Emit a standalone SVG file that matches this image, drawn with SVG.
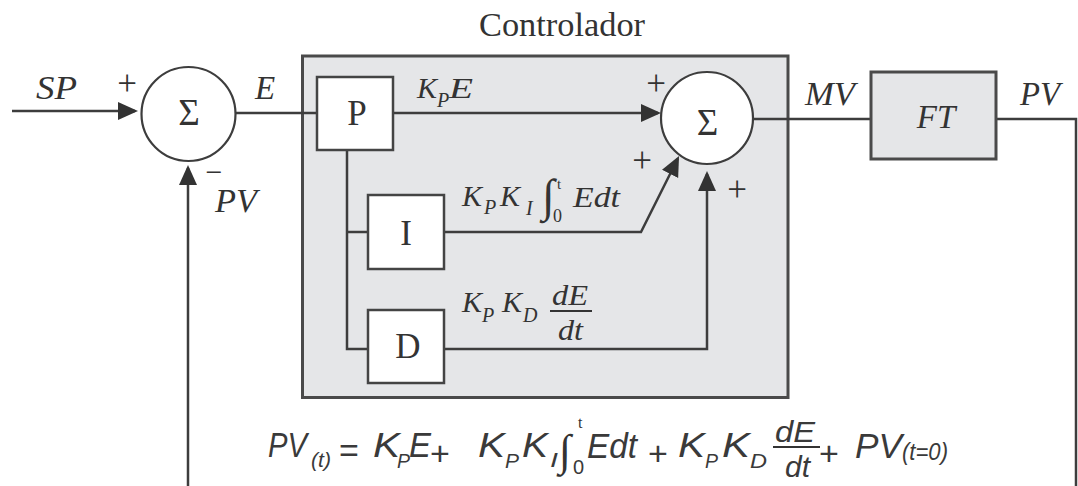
<svg xmlns="http://www.w3.org/2000/svg" width="1078" height="486" viewBox="0 0 1078 486">
<defs>
<marker id="arr" markerUnits="userSpaceOnUse" markerWidth="20" markerHeight="20" viewBox="0 0 20 20" refX="17" refY="10" orient="auto">
<path d="M0,1 L20,10 L0,19 z" fill="#333"/>
</marker>
</defs>
<style>
.ln{fill:none;stroke:#3d3d3d;stroke-width:2.5}
.ar{marker-end:url(#arr)}
.box{fill:#fff;stroke:#444;stroke-width:2.5}
.gbox{fill:#e5e6e8;stroke:#4a4a4a;stroke-width:3}
.circ{fill:#fff;stroke:#3d3d3d;stroke-width:2.2}
.si{font-family:"Liberation Serif","DejaVu Serif",serif;font-style:italic;fill:#333}
.su{font-family:"Liberation Serif","DejaVu Serif",serif;fill:#333}
.eq{font-family:"Liberation Sans","DejaVu Sans",sans-serif;font-style:italic;fill:#3a3a3a}
.equ{font-family:"Liberation Sans","DejaVu Sans",sans-serif;fill:#3a3a3a}
</style>
<rect width="1078" height="486" fill="#fff"/>

<g id="controller">
<rect class="gbox" x="302.5" y="56" width="485.5" height="341.5"/>
<text class="su" x="562" y="36" font-size="34" text-anchor="middle" textLength="166" lengthAdjust="spacingAndGlyphs">Controlador</text>
</g>

<g id="connectors">
<path class="ln ar" d="M12,111 H135"/>
<path class="ln" d="M235,113 H317"/>
<path class="ln ar" d="M393,113 H658"/>
<path class="ln" d="M347,150 V349 H368"/>
<path class="ln" d="M347,232 H368"/>
<path class="ln ar" d="M444,232 H641 L677.7,158.7"/>
<path class="ln ar" d="M444,349 H707 V174"/>
<path class="ln" d="M753,119 H871"/>
<path class="ln" d="M996,119 H1076 V486"/>
<path class="ln ar" d="M188,486 V168"/>
</g>

<g id="sum1">
<circle class="circ" cx="188.5" cy="114" r="47"/>
<text class="su" x="189" y="125" font-size="37" text-anchor="middle">Σ</text>
</g>

<g id="P">
<rect class="box" x="317" y="77" width="76" height="73"/>
<text class="su" x="357" y="125" font-size="35" text-anchor="middle">P</text>
</g>
<g id="I">
<rect class="box" x="368" y="195" width="76" height="74"/>
<text class="su" x="406" y="245" font-size="35" text-anchor="middle">I</text>
</g>
<g id="D">
<rect class="box" x="368" y="310" width="76" height="73"/>
<text class="su" x="408" y="358" font-size="35" text-anchor="middle">D</text>
</g>

<g id="sum2">
<circle class="circ" cx="707" cy="118" r="46"/>
<text class="su" x="707.5" y="135" font-size="37" text-anchor="middle">Σ</text>
</g>

<g id="FT">
<rect class="gbox" x="871" y="72" width="125" height="87" stroke-width="2.5"/>
<text class="si" x="936" y="128" font-size="33" text-anchor="middle">FT</text>
</g>

<g id="labels">
<text class="si" x="36" y="99" font-size="33" textLength="41" lengthAdjust="spacingAndGlyphs">SP</text>
<text class="su" x="127" y="95" font-size="35" text-anchor="middle">+</text>
<text class="si" x="255" y="99" font-size="33">E</text>
<text class="su" x="214" y="182" font-size="30" text-anchor="middle">−</text>
<text class="si" x="215" y="212" font-size="33" textLength="42" lengthAdjust="spacingAndGlyphs">PV</text>
<text class="si" x="805" y="105" font-size="33" textLength="50" lengthAdjust="spacingAndGlyphs">MV</text>
<text class="si" x="1020" y="105" font-size="33" textLength="40" lengthAdjust="spacingAndGlyphs">PV</text>
<text class="su" x="656" y="95" font-size="35" text-anchor="middle">+</text>
<text class="su" x="642" y="172" font-size="35" text-anchor="middle">+</text>
<text class="su" x="737" y="201" font-size="35" text-anchor="middle">+</text>

<text class="si" x="417" y="98" font-size="30">K</text>
<text class="si" x="437" y="107" font-size="20">P</text>
<text class="si" x="449" y="98" font-size="30" textLength="24" lengthAdjust="spacingAndGlyphs">E</text>

<text class="si" x="462" y="206" font-size="30">K</text>
<text class="si" x="484" y="214" font-size="20">P</text>
<text class="si" x="500" y="206" font-size="30">K</text>
<text class="si" x="526" y="215" font-size="20">I</text>
<text class="su" x="542" y="211" font-size="46">∫</text>
<text class="su" x="557" y="189" font-size="15">t</text>
<text class="su" x="553" y="222" font-size="18">0</text>
<text class="si" x="573" y="207" font-size="30" textLength="47" lengthAdjust="spacingAndGlyphs">Edt</text>

<text class="si" x="462" y="312" font-size="30">K</text>
<text class="si" x="482" y="322" font-size="20">P</text>
<text class="si" x="502" y="312" font-size="30">K</text>
<text class="si" x="523" y="322" font-size="20">D</text>
<text class="si" x="552" y="305" font-size="30" textLength="36" lengthAdjust="spacingAndGlyphs">dE</text>
<line x1="550" y1="311" x2="592" y2="311" stroke="#333" stroke-width="2"/>
<text class="si" x="558" y="340" font-size="30" textLength="25" lengthAdjust="spacingAndGlyphs">dt</text>
</g>

<g id="equation">
<text class="eq" x="268" y="457" font-size="35" textLength="39" lengthAdjust="spacingAndGlyphs">PV</text>
<text class="eq" x="311" y="467" font-size="21" textLength="20" lengthAdjust="spacingAndGlyphs">(t)</text>
<text class="equ" x="349" y="462" font-size="34" text-anchor="middle">=</text>
<text class="eq" x="373" y="457" font-size="35" textLength="27" lengthAdjust="spacingAndGlyphs">K</text>
<text class="eq" x="397" y="468" font-size="21" textLength="13" lengthAdjust="spacingAndGlyphs">P</text>
<text class="eq" x="409" y="457" font-size="35" textLength="22" lengthAdjust="spacingAndGlyphs">E</text>
<text class="equ" x="440" y="465" font-size="34" text-anchor="middle">+</text>
<text class="eq" x="478" y="457" font-size="35" textLength="27" lengthAdjust="spacingAndGlyphs">K</text>
<text class="eq" x="505" y="468" font-size="21" textLength="14" lengthAdjust="spacingAndGlyphs">P</text>
<text class="eq" x="522" y="457" font-size="35" textLength="26" lengthAdjust="spacingAndGlyphs">K</text>
<text class="eq" x="550" y="467" font-size="21" textLength="8" lengthAdjust="spacingAndGlyphs">I</text>
<text class="su" x="559" y="465" font-size="44">∫</text>
<text class="su" x="578" y="428" font-size="16">t</text>
<text class="equ" x="573" y="474" font-size="20">0</text>
<text class="eq" x="587" y="458" font-size="35" textLength="50" lengthAdjust="spacingAndGlyphs">Edt</text>
<text class="equ" x="658" y="465" font-size="34" text-anchor="middle">+</text>
<text class="eq" x="678" y="457" font-size="35" textLength="27" lengthAdjust="spacingAndGlyphs">K</text>
<text class="eq" x="705" y="468" font-size="21" textLength="13" lengthAdjust="spacingAndGlyphs">P</text>
<text class="eq" x="722" y="457" font-size="35" textLength="28" lengthAdjust="spacingAndGlyphs">K</text>
<text class="eq" x="750" y="468" font-size="21" textLength="17" lengthAdjust="spacingAndGlyphs">D</text>
<text class="eq" x="775" y="442" font-size="29" textLength="40" lengthAdjust="spacingAndGlyphs">dE</text>
<line x1="773" y1="447" x2="820" y2="447" stroke="#333" stroke-width="2"/>
<text class="eq" x="785" y="477" font-size="29" textLength="25" lengthAdjust="spacingAndGlyphs">dt</text>
<text class="equ" x="829" y="465" font-size="34" text-anchor="middle">+</text>
<text class="eq" x="855" y="458" font-size="35" textLength="47" lengthAdjust="spacingAndGlyphs">PV</text>
<text class="eq" x="902" y="460" font-size="23" textLength="46" lengthAdjust="spacingAndGlyphs">(t=0)</text>
</g>
</svg>
